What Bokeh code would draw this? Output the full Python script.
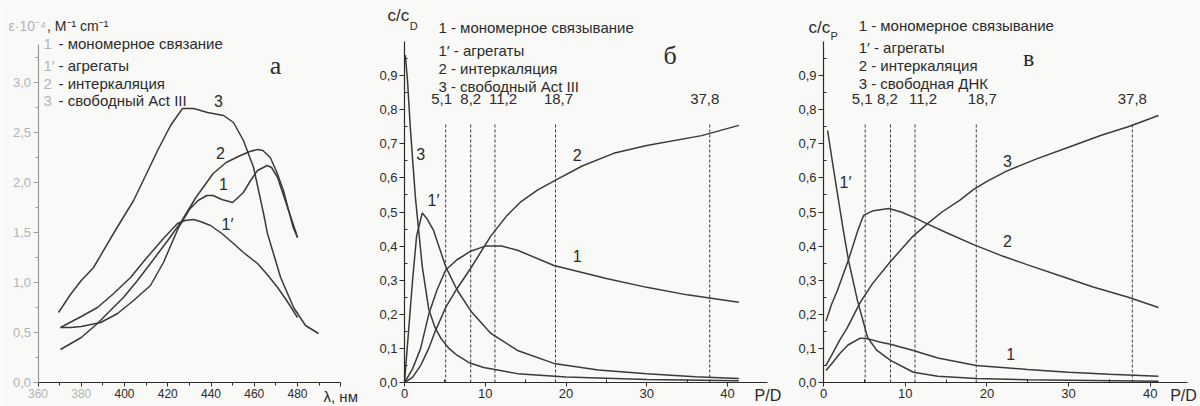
from bokeh.plotting import figure
from bokeh.layouts import row
from bokeh.models import Label, FixedTicker, CustomJSTickFormatter, Range1d
from bokeh.embed import file_html
from bokeh.resources import INLINE

# ---------------- data: panel а (spectra) ----------------
a_c3_x = [369.5, 375, 380, 385.7, 394.9, 404.2, 410, 415.3, 421.3, 426.8, 432, 438.4, 445.8, 450.4, 455, 459.7, 464.3, 466.1, 472.2, 478.2, 483.7, 489.7]
a_c3_y = [0.70, 0.88, 1.02, 1.15, 1.49, 1.82, 2.08, 2.32, 2.57, 2.74, 2.74, 2.70, 2.67, 2.60, 2.42, 2.15, 1.69, 1.49, 1.05, 0.75, 0.57, 0.49]
a_c2_x = [370.4, 380, 387.5, 393, 399.5, 406, 412, 420, 426, 433, 441, 447, 453.6, 458, 461.5, 464, 467.4, 470.5, 473.5, 478, 480]
a_c2_y = [0.33, 0.45, 0.59, 0.71, 0.85, 1.02, 1.19, 1.42, 1.60, 1.85, 2.09, 2.20, 2.27, 2.31, 2.33, 2.32, 2.25, 2.10, 1.92, 1.55, 1.45]
a_c1_x = [370.4, 375, 380, 389, 396.8, 404.2, 412, 418, 425, 430, 434, 438, 441, 445, 450, 455, 458.3, 461.5, 466, 468, 470.8, 475.4, 479, 480]
a_c1_y = [0.55, 0.55, 0.56, 0.60, 0.69, 0.82, 0.97, 1.20, 1.55, 1.73, 1.82, 1.87, 1.87, 1.83, 1.80, 1.90, 2.02, 2.12, 2.17, 2.15, 2.05, 1.75, 1.52, 1.45]
a_c1p_x = [370.4, 380, 387.5, 395, 402.8, 410, 418, 424.5, 428, 431.9, 435, 439.8, 445, 450.4, 455, 461.5, 466, 470.8, 475, 480]
a_c1p_y = [0.55, 0.66, 0.75, 0.89, 1.05, 1.24, 1.44, 1.59, 1.62, 1.63, 1.61, 1.57, 1.49, 1.39, 1.30, 1.19, 1.08, 0.95, 0.82, 0.65]
a_xticks = [360, 380, 400, 420, 440, 460, 480, 500]
a_xminor = [370, 390, 410, 430, 450, 470, 490]
a_faded_xlabels = [360, 380]
a_yticks = [0.0, 0.5, 1.0, 1.5, 2.0, 2.5, 3.0]
a_yminor = [0.25, 0.75, 1.25, 1.75, 2.25, 2.75, 3.25]

# ---------------- data: panel б ----------------
b_c1_x = [0, 1, 2, 3, 4, 5.1, 6.5, 8.2, 10, 12, 14, 18.5, 25, 30, 35, 41.4]
b_c1_y = [0, 0.04, 0.10, 0.20, 0.27, 0.33, 0.36, 0.385, 0.40, 0.40, 0.388, 0.343, 0.305, 0.279, 0.257, 0.235]
b_c1p_x = [0, 0.5, 1, 1.5, 2.2, 2.8, 3.6, 5.1, 6.5, 8.2, 10.7, 14, 18.5, 24, 30, 36, 41.4]
b_c1p_y = [0, 0.15, 0.30, 0.43, 0.497, 0.48, 0.446, 0.34, 0.272, 0.21, 0.144, 0.094, 0.056, 0.037, 0.026, 0.017, 0.012]
b_c2_x = [0, 1, 2, 3, 3.8, 5.1, 6.5, 8.2, 10.7, 12.7, 14.4, 16.5, 18.6, 22, 25.9, 30, 36.8, 41.4]
b_c2_y = [0, 0.015, 0.05, 0.10, 0.15, 0.22, 0.275, 0.335, 0.43, 0.49, 0.53, 0.565, 0.592, 0.635, 0.672, 0.695, 0.724, 0.754]
b_c3_x = [0.1, 0.37, 0.74, 1.36, 2.2, 3.0, 3.8, 4.5, 5.5, 6.5, 8, 9.8, 14, 20, 30, 41.4]
b_c3_y = [0.96, 0.886, 0.74, 0.54, 0.34, 0.215, 0.16, 0.13, 0.10, 0.08, 0.058, 0.044, 0.026, 0.016, 0.009, 0.005]

# ---------------- data: panel в ----------------
v_c1p_x = [0.5, 1.2, 1.84, 2.4, 3.06, 4.16, 5.4, 6.5, 8.2, 11, 14, 18.7, 25, 33, 41]
v_c1p_y = [0.739, 0.63, 0.534, 0.45, 0.358, 0.24, 0.132, 0.095, 0.065, 0.03, 0.018, 0.012, 0.008, 0.006, 0.004]
v_c2_x = [0.3, 1, 1.7, 3.06, 4.2, 4.9, 6.1, 8.0, 9.5, 11, 12.7, 15, 18.3, 22, 25, 29.3, 33, 37.3, 41]
v_c2_y = [0.18, 0.23, 0.27, 0.36, 0.446, 0.49, 0.504, 0.51, 0.50, 0.485, 0.465, 0.44, 0.405, 0.37, 0.345, 0.31, 0.28, 0.25, 0.22]
v_c3_x = [0.3, 1, 2, 2.9, 4.5, 6, 8.2, 11, 12.7, 14.5, 16.7, 18.3, 20, 22.4, 26, 30, 34, 37.3, 41]
v_c3_y = [0.05, 0.08, 0.125, 0.16, 0.235, 0.29, 0.355, 0.43, 0.465, 0.50, 0.535, 0.565, 0.59, 0.62, 0.655, 0.69, 0.725, 0.75, 0.783]
v_c1_x = [0.3, 1, 2, 3, 4.5, 5.5, 7, 8.2, 11, 14, 18.7, 25, 30, 35, 41]
v_c1_y = [0.035, 0.055, 0.085, 0.11, 0.13, 0.128, 0.118, 0.112, 0.094, 0.072, 0.05, 0.038, 0.03, 0.024, 0.018]

pd_marks = [5.1, 8.2, 11.2, 18.7, 37.8]
pd_mark_labels = ["5,1", "8,2", "11,2", "18,7", "37,8"]
pd_xticks = [0, 10, 20, 30, 40]
pd_xminor = [5, 15, 25, 35]
c_yticks = [0.0, 0.1, 0.2, 0.3, 0.4, 0.5, 0.6, 0.7, 0.8, 0.9]
c_yminor = [0.05, 0.15, 0.25, 0.35, 0.45, 0.55, 0.65, 0.75, 0.85, 0.95]

legend_a = [("1", "- мономерное связание"), ("1′", "- агрегаты"), ("2", "- интеркаляция"), ("3", "- свободный Act III")]
legend_b = ["1 - мономерное связывание", "1′ - агрегаты", "2 - интеркаляция", "3 - свободный Act III"]
legend_v = ["1 - мономерное связывание", "1′ - агрегаты", "2 - интеркаляция", "3 - свободная ДНК"]

FONT = "Liberation Sans"
SERIF = "Liberation Serif"
INK = "#2b2b2b"
LINE = "#3a3a3a"
FADE = "#b4b4b4"
BG = "#f9f9f7"
H = 406
Y0_PX = 382  # pixel row of y = 0, from the top of each figure


def txt(p, x, y, s, size=13, color=INK, align="left", baseline="middle", font=FONT, xo=0, yo=0):
    p.add_layout(Label(x=x, y=y, text=s, text_font=font, text_font_size=f"{size}px",
                       text_color=color, text_align=align, text_baseline=baseline,
                       x_offset=xo, y_offset=yo))


def make_fig(width, origin_px, x0, x_scale, x_bounds, y_scale, y_bounds):
    # the frame covers the whole figure; both axes are pinned at the data origin
    xr = (x0 - origin_px / x_scale, x0 + (width - origin_px) / x_scale)
    yr = (-(H - Y0_PX) / y_scale, Y0_PX / y_scale)
    p = figure(width=width, height=H, x_range=Range1d(*xr), y_range=Range1d(*yr),
               output_backend="svg", toolbar_location=None,
               min_border=0, min_border_left=0, min_border_right=0,
               min_border_top=0, min_border_bottom=0)
    p.xgrid.visible = False
    p.ygrid.visible = False
    p.outline_line_color = None
    p.background_fill_color = BG
    p.border_fill_color = BG
    p.xaxis[0].fixed_location = 0
    p.yaxis[0].fixed_location = x0
    p.xaxis[0].bounds = x_bounds
    p.yaxis[0].bounds = y_bounds
    for ax in (p.xaxis[0], p.yaxis[0]):
        ax.axis_line_color = INK
        ax.axis_line_width = 1.2
        ax.major_tick_line_color = INK
        ax.minor_tick_line_color = INK
        ax.major_label_text_font = FONT
        ax.major_label_text_font_size = "13px"
        ax.major_label_text_color = INK
        ax.major_tick_out = 5
        ax.major_tick_in = 0
        ax.major_label_standoff = 2
    p.xaxis[0].major_tick_out = 4
    p.xaxis[0].major_label_standoff = 2
    return p


comma1 = CustomJSTickFormatter(code="return tick.toFixed(1).replace('.', ',');")

# ---------------- panel а ----------------
pa = make_fig(373, 37.5, 360, 2.1625, (360, 500), 100.0, (0, 3.38))
pa.xaxis[0].ticker = FixedTicker(ticks=a_xticks, minor_ticks=a_xminor)
pa.xaxis[0].formatter = CustomJSTickFormatter(code="if (tick >= 499 || tick < 390) return ''; return tick.toFixed(0);")
pa.xaxis[0].major_label_text_font_size = "12px"
pa.xaxis[0].minor_tick_out = 3
pa.xaxis[0].minor_tick_in = 0
pa.yaxis[0].ticker = FixedTicker(ticks=a_yticks, minor_ticks=a_yminor)
pa.yaxis[0].formatter = comma1
pa.yaxis[0].minor_tick_out = 3
pa.yaxis[0].minor_tick_in = 0
pa.yaxis[0].axis_line_color = "#9c9c9c"
pa.yaxis[0].major_tick_line_color = "#9c9c9c"
pa.yaxis[0].minor_tick_line_color = "#9c9c9c"
pa.yaxis[0].major_label_text_color = FADE
for xs, ys in ((a_c3_x, a_c3_y), (a_c2_x, a_c2_y), (a_c1_x, a_c1_y), (a_c1p_x, a_c1p_y)):
    pa.line(xs, ys, line_color=LINE, line_width=1.5)
for v in a_faded_xlabels:
    txt(pa, v, 0, str(v), size=12, color=FADE, align="center", baseline="top", yo=-6)
txt(pa, 500, 0, "λ, нм", size=15, align="center", baseline="top", yo=-5)
txt(pa, 346.4, 3.57, "ε·10⁻⁴", size=14, color=FADE)
txt(pa, 364.2, 3.57, ", M⁻¹ cm⁻¹", size=14, color=INK)
for i, (num, rest) in enumerate(legend_a):
    yv = [3.39, 3.17, 2.99, 2.82][i]
    txt(pa, 362.5, yv, num, size=15, color=FADE)
    txt(pa, 369.5, yv, rest, size=15, color=INK)
txt(pa, 443.5, 2.82, "3", size=16, align="center")
txt(pa, 444.4, 2.30, "2", size=16, align="center")
txt(pa, 445.8, 1.99, "1", size=16, align="center")
txt(pa, 447.6, 1.58, "1′", size=16, align="center")
txt(pa, 469.8, 3.17, "а", size=26, font=SERIF, align="center")


def pd_panel(width, origin_px, x_scale, x_end, offsets):
    p = make_fig(width, origin_px, 0, x_scale, (0, x_end), 341.0, (0, 1.0))
    p.xaxis[0].ticker = FixedTicker(ticks=pd_xticks, minor_ticks=pd_xminor)
    p.xaxis[0].minor_tick_in = 3
    p.xaxis[0].minor_tick_out = 0
    p.yaxis[0].ticker = FixedTicker(ticks=c_yticks, minor_ticks=c_yminor)
    p.yaxis[0].formatter = comma1
    p.yaxis[0].minor_tick_in = 3
    p.yaxis[0].minor_tick_out = 0
    p.segment(x0=pd_marks, y0=[0] * len(pd_marks), x1=pd_marks, y1=[0.76] * len(pd_marks),
              line_color=LINE, line_width=1, line_dash="3 2")
    for xv, lab, off in zip(pd_marks, pd_mark_labels, offsets):
        txt(p, xv, 0.83, lab, size=15, align="center", xo=off)
    return p


# ---------------- panel б ----------------
pb = pd_panel(417, 31, 8.075, 45, [-4, 0, 8, 3, -5])
for xs, ys in ((b_c1_x, b_c1_y), (b_c1p_x, b_c1p_y), (b_c2_x, b_c2_y), (b_c3_x, b_c3_y)):
    pb.line(xs, ys, line_color=LINE, line_width=1.5)
txt(pb, 45, 0, "P/D", size=16, align="center", baseline="top", yo=-4)
txt(pb, -2.1, 1.076, "c/c", size=17)
txt(pb, 0.65, 1.045, "D", size=11)
for i, s in enumerate(legend_b):
    txt(pb, 4.2, [1.041, 0.974, 0.921, 0.868][i], s, size=15)
txt(pb, 2.0, 0.67, "3", size=16, align="center")
txt(pb, 3.6, 0.534, "1′", size=16, align="center")
txt(pb, 21.4, 0.666, "2", size=16, align="center")
txt(pb, 21.4, 0.372, "1", size=16, align="center")
txt(pb, 32.9, 0.959, "б", size=26, font=SERIF, align="center")

# ---------------- panel в ----------------
pv = pd_panel(410, 33, 8.17, 44.5, [-3, -3, 8, 6, 0])
for xs, ys in ((v_c1p_x, v_c1p_y), (v_c2_x, v_c2_y), (v_c3_x, v_c3_y), (v_c1_x, v_c1_y)):
    pv.line(xs, ys, line_color=LINE, line_width=1.5)
txt(pv, 44.06, 0, "P/D", size=16, align="center", baseline="top", yo=-4)
txt(pv, -1.84, 1.041, "c/c", size=17)
txt(pv, 0.85, 1.015, "P", size=11)
for i, s in enumerate(legend_v):
    txt(pv, 4.3, [1.047, 0.982, 0.930, 0.877][i], s, size=15)
txt(pv, 2.7, 0.587, "1′", size=16, align="center")
txt(pv, 22.5, 0.65, "3", size=16, align="center")
txt(pv, 22.5, 0.416, "2", size=16, align="center")
txt(pv, 22.9, 0.085, "1", size=16, align="center")
txt(pv, 25.1, 0.953, "в", size=24, font=SERIF, align="center")

layout = row(pa, pb, pv)
open("out.html", "w").write(file_html(layout, INLINE))
